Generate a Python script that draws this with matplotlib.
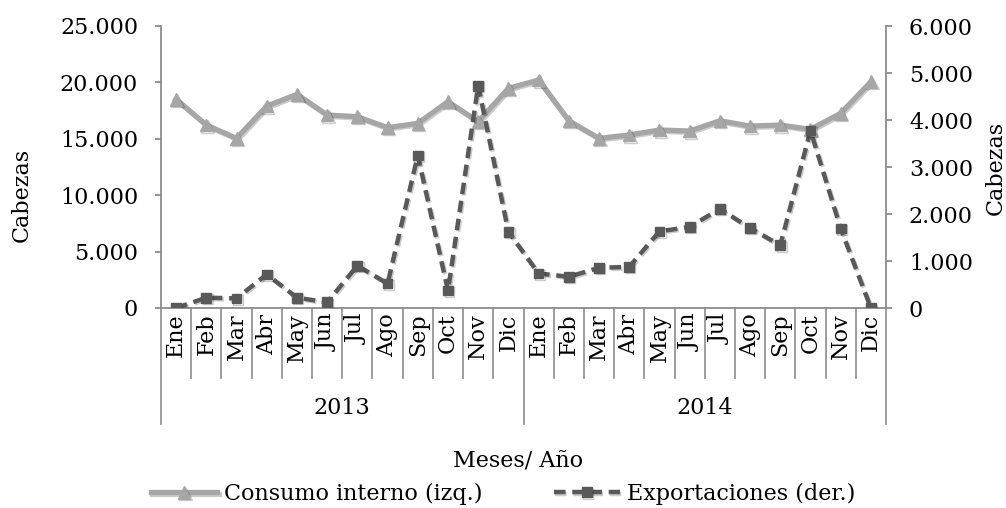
import matplotlib.pyplot as plt
import matplotlib.patheffects as pe
from matplotlib.ticker import FuncFormatter

plt.rcParams['font.family'] = ['DejaVu Serif']

meses = ['Ene', 'Feb', 'Mar', 'Abr', 'May', 'Jun', 'Jul', 'Ago', 'Sep', 'Oct', 'Nov', 'Dic']
anios = ['2013', '2014']
categorias = meses * len(anios)

# Consumo interno (eje izq.)
consumo = [18500, 16220, 15040, 17900, 18940, 17110, 16960, 15990, 16370, 18290, 16520, 19470,
           20210, 16600, 15040, 15340, 15780, 15690, 16600, 16130, 16220, 15840, 17260, 20060]
# Exportaciones (eje der.)
exportaciones = [0, 220, 205, 715, 220, 120, 900, 520, 3245, 370, 4730, 1620,
                 735, 665, 855, 875, 1630, 1725, 2110, 1700, 1335, 3775, 1690, 0]

FS = 16
gris_eje = '#8c8c8c'
x = list(range(len(categorias)))

fig = plt.figure(figsize=(10.06, 5.08), dpi=100)
ax = fig.add_axes([161 / 1006, 1 - 308 / 508, 725 / 1006, 282 / 508])
ax2 = ax.twinx()

sombra = [pe.SimpleLineShadow(offset=(1, -1), alpha=0.2), pe.Normal()]

l1, = ax.plot(x, consumo, color='#a6a6a6', lw=3.8, marker='^', ms=9, mec='#a6a6a6',
              label='Consumo interno (izq.)', path_effects=sombra, zorder=3)
l2, = ax2.plot(x, exportaciones, color='#595959', lw=3.2, ls=(0, (2.6, 1.5)), marker='s', ms=7,
               mec='#595959', label='Exportaciones (der.)', path_effects=sombra, zorder=3)

ax.set_xlim(-0.5, len(categorias) - 0.5)
ax.set_ylim(0, 25000)
ax2.set_ylim(0, 6000)
ax.set_yticks(range(0, 25001, 5000))
ax2.set_yticks(range(0, 6001, 1000))

miles = FuncFormatter(lambda v, p: f'{int(v):,}'.replace(',', '.'))
ax.yaxis.set_major_formatter(miles)
ax2.yaxis.set_major_formatter(miles)

for a in (ax, ax2):
    a.spines['top'].set_visible(False)
    for s in ('left', 'right', 'bottom'):
        a.spines[s].set_color(gris_eje)
        a.spines[s].set_linewidth(1.3)
    a.tick_params(axis='y', direction='out', length=4.5, width=1.3, color=gris_eje,
                  labelsize=FS, pad=12)
ax.spines['right'].set_visible(False)
ax2.spines['left'].set_visible(False)
ax2.spines['bottom'].set_visible(False)

ax.set_xticks(x)
ax.set_xticklabels(categorias, rotation=90, fontsize=FS)
ax.tick_params(axis='x', length=0, pad=4)

# separadores de meses y años bajo el eje
tr = ax.get_xaxis_transform()
for i in range(len(categorias) + 1):
    xb = i - 0.5
    y_fin = -0.411 if i % 12 == 0 else -0.248
    ax.plot([xb, xb], [0, y_fin], transform=tr, color=gris_eje, lw=1.2, clip_on=False)
for k, anio in enumerate(anios):
    ax.text(k * 12 + 5.5, -0.355, anio, transform=tr, ha='center', va='center', fontsize=FS)

fig.text(518 / 1006, 1 - 462 / 508, 'Meses/ Año', ha='center', va='center', fontsize=FS)
fig.text(22 / 1006, 1 - 195 / 508, 'Cabezas', rotation=90, ha='center', va='center', fontsize=FS)
fig.text(996 / 1006, 1 - 168 / 508, 'Cabezas', rotation=90, ha='center', va='center', fontsize=FS)

fig.legend(handles=[l1, l2], loc='center', bbox_to_anchor=(503 / 1006, 1 - 494 / 508),
           ncol=2, frameon=False, fontsize=FS, handlelength=3, handletextpad=0.3,
           columnspacing=3.2, borderpad=0)

fig.savefig('out.png', dpi=100)
